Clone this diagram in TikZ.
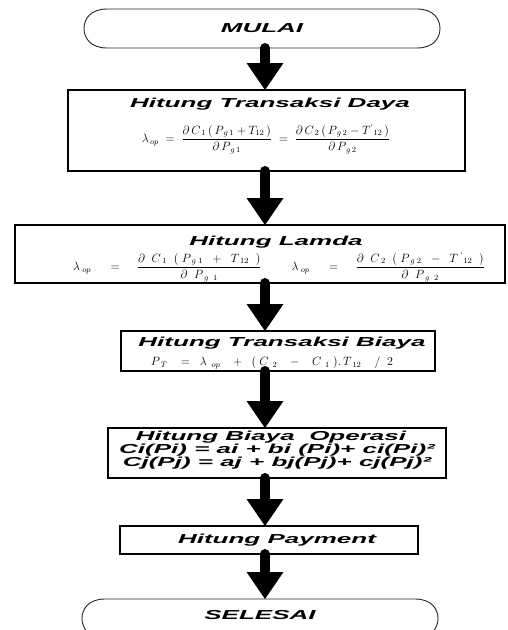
\documentclass[tikz,border=0pt]{standalone}
\usepackage{amsmath}
\usepackage{fontspec}
\newfontfamily\hitfont[FakeStretch=2.0]{Liberation Sans}
\usetikzlibrary{arrows.meta}

% outline of the start / end terminator
\newcommand\TermShape[1]{%
  \draw[TerminalLine] ([xshift=23pt]#1.north west) -- ([xshift=-23pt]#1.north east)
    .. controls ([xshift=-6pt]#1.north east) and ([yshift=9pt]#1.east) .. (#1.east)
    .. controls ([yshift=-9pt]#1.east) and ([xshift=-6pt]#1.south east) .. ([xshift=-23pt]#1.south east)
    -- ([xshift=23pt]#1.south west)
    .. controls ([xshift=6pt]#1.south west) and ([yshift=-9pt]#1.west) .. (#1.west)
    .. controls ([yshift=9pt]#1.west) and ([xshift=6pt]#1.north west) .. cycle;}

\begin{document}
\begin{tikzpicture}[x=1pt,y=-1pt]
	  \fill[white] (0,0) rectangle (507,630);
	  \useasboundingbox (0,0) rectangle (507,630);
	  \tikzset{BoxStyle/.style = {draw,
	                              line width     = 1.4pt,
	                              inner sep      = 0pt,
	                              outer sep      = 0pt}}

	  \tikzset{TerminalStyle/.style = {inner sep      = 0pt,
	                                   outer sep      = 0pt,
	                                   minimum width  = 356pt,
	                                   minimum height = 39pt}}

	  \tikzset{TerminalLine/.style = {line width = 0.9pt, draw = black!85}}

	  \tikzset{TitleStyle/.style = {inner sep = 0pt,
	                                align     = center,
	                                font      = \hitfont\bfseries\itshape\fontsize{13}{12.5}\selectfont}}

	  \tikzset{FormulaStyle/.style = {inner sep = 0pt,
	                                  font      = \fontsize{11.5}{13}\selectfont}}

	  \tikzset{ArrowStyle/.style = {line width = 10pt,
	                                line cap   = round,
	                                -{Triangle[width=37pt,length=27pt,line width=0pt]}}}

	     \coordinate (ax) at (265,0);

	     \node[TerminalStyle,TitleStyle] (mulai) at (262,28.5) {\raisebox{1pt}{MULAI}};
	     \TermShape{mulai}

	     \node[BoxStyle,minimum width=397pt,minimum height=81pt] (daya) at (266.5,130.5) {};
	     \node[TitleStyle] (dayaT) at (270,104) {Hitung Transaksi Daya};
	     \node[FormulaStyle] (dayaF) at (266,139)
	       {$\lambda_{\,op}\;=\;\dfrac{\partial\,C_{\,1}\,(\,P_{\,g\,1}+T_{12}\,)}{\partial\,P_{\,g\,1}}\;=\;\dfrac{\partial\,C_{\,2}\,(\,P_{\,g\,2}-T^{`}{}_{12}\,)}{\partial\,P_{\,g\,2}}$};

	     \node[BoxStyle,minimum width=490pt,minimum height=58pt] (lamda) at (260,254) {};
	     \node[TitleStyle] (lamdaT) at (276,242) {Hitung Lamda};
	     \node[FormulaStyle] (lamdaF) at (279,267)
	       {$\lambda_{\;op}\hspace{16pt}=\hspace{14pt}\dfrac{\partial\;\;C_{\;1}\;\;(\;P_{\;g\;1}\;\;+\;\;T_{\;12}\;\;)}{\partial\;\;P_{\;g\;\;1}}\hspace{30pt}\lambda_{\;op}\hspace{16pt}=\hspace{14pt}\dfrac{\partial\;\;C_{\;2}\;\;(\;P_{\;g\;2}\;\;-\;\;T^{\;`}{}_{12}\;\;)}{\partial\;\;P_{\;g\;\;2}}$};

	     \node[BoxStyle,minimum width=314pt,minimum height=40pt] (biaya) at (278,351) {};
	     \node[TitleStyle] (biayaT) at (282,343) {Hitung Transaksi Biaya};
	     \node[FormulaStyle] (biayaF) at (272,363)
	       {$P_{\;T}\;\;\;=\;\;\lambda_{\;\;op}\;\;\;+\;\;(\;C_{\;\;2}\;\;\;-\;\;\;C_{\;\;1}\;).\,T_{\;12}\;\;\;\;/\;\;2$};

	     \node[BoxStyle,minimum width=338pt,minimum height=50pt] (operasi) at (277,453) {};
	     \node[TitleStyle] (operasiT) at (271,437) {Hitung Biaya\ \ Operasi};
	     \node[TitleStyle] (ciT) at (277,450) {Ci(Pi) = ai + bi (Pi)+ ci(Pi)²};
	     \node[TitleStyle] (cjT) at (277,463) {Cj(Pj) = aj + bj(Pj)+ cj(Pj)²};

	     \node[BoxStyle,minimum width=298pt,minimum height=28pt] (payment) at (269,540) {};
	     \node[TitleStyle] (paymentT) at (277,540) {Hitung Payment};

	     \node[TerminalStyle,TitleStyle] (selesai) at (260,618.5) {\raisebox{7pt}{SELESAI}};
	     \TermShape{selesai}

	     \draw[ArrowStyle] (mulai.south -| ax) -- (daya.north -| ax);
	     \draw[ArrowStyle] (daya.south -| ax) -- (lamda.north -| ax);
	     \draw[ArrowStyle] (lamda.south -| ax) -- (biaya.north -| ax);
	     \draw[ArrowStyle] (biaya.south -| ax) -- (operasi.north -| ax);
	     \draw[ArrowStyle] (operasi.south -| ax) -- (payment.north -| ax);
	     \draw[ArrowStyle] (payment.south -| ax) -- (selesai.north -| ax);

	  \end{tikzpicture}
\end{document}
